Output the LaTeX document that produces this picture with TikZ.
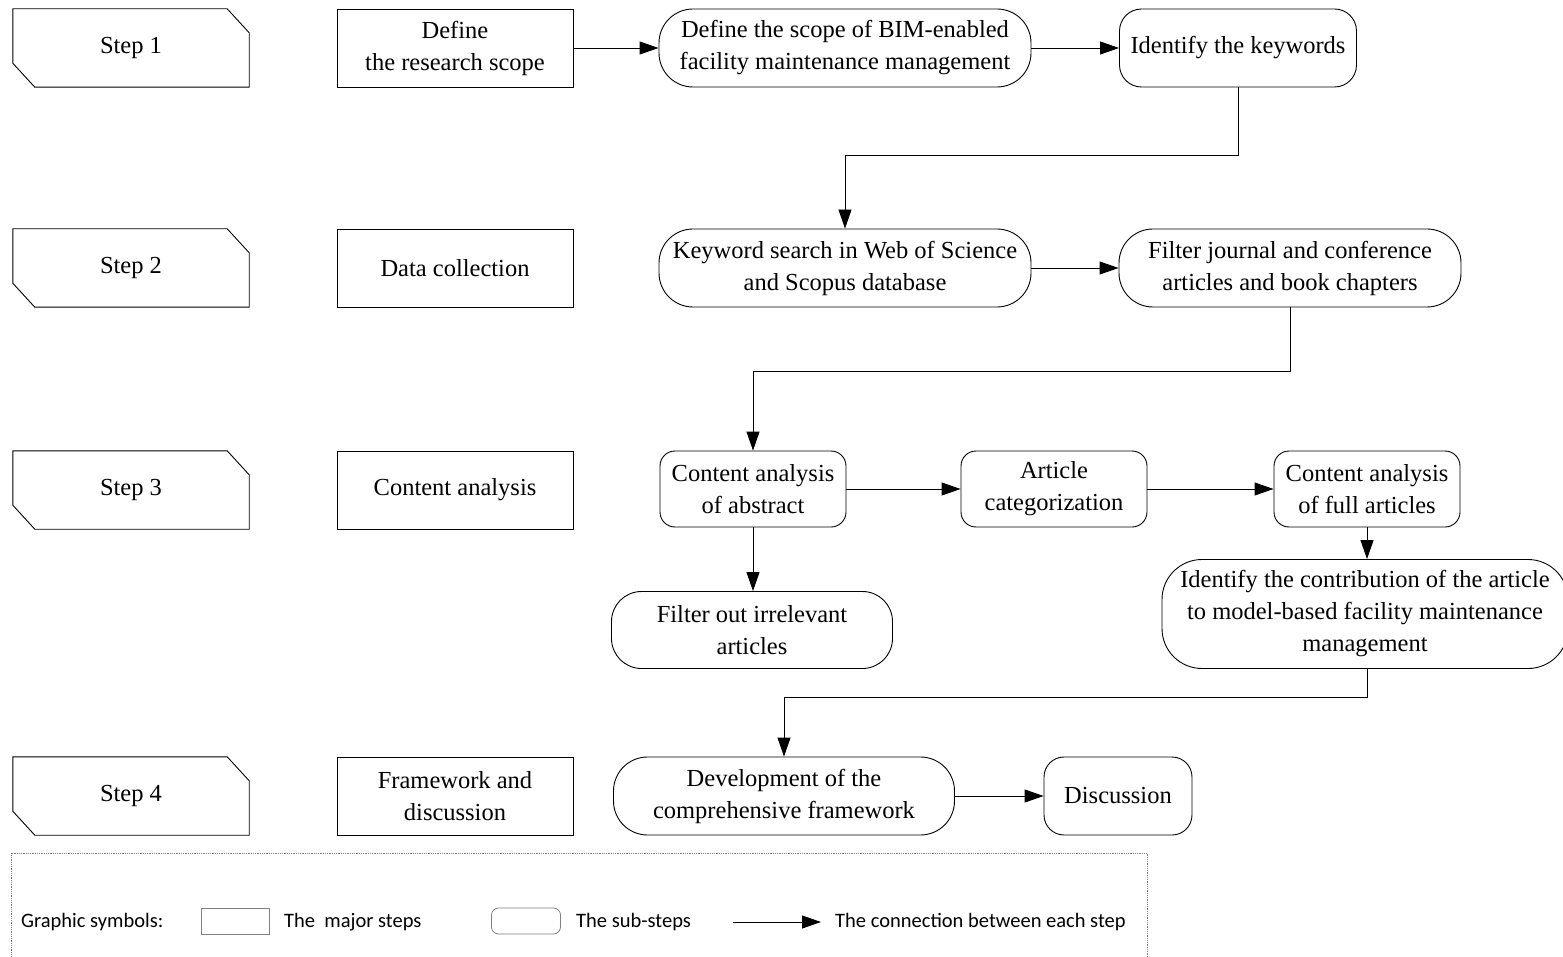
\documentclass[tikz,border=0pt]{standalone}
\usepackage{fontspec}
\setmainfont{Liberation Serif}
\newfontfamily\legendfont{Carlito}
\usetikzlibrary{arrows.meta}
\begin{document}
\begin{tikzpicture}[x=1pt,y=-1pt,
  base/.style={font=\fontsize{24.5}{32}\selectfont, align=center, inner sep=0pt, line width=0.9pt, draw=black},
  major/.style={base, minimum width=236, minimum height=78},
  stepnode/.style={font=\fontsize{24.5}{32}\selectfont, align=center, inner sep=0pt, minimum width=236, minimum height=78},
  sub/.style={base, rounded corners=#1},
  sub/.default=20pt,
  arr/.style={-{Triangle[length=19pt,width=13pt]}, line width=0.9pt, draw=black},
  legend/.style={font=\legendfont\fontsize{20.5}{24}\selectfont, inner sep=0pt, anchor=west},
  stepshape/.style={line width=0.9pt, draw=black}
]
\useasboundingbox (0,0) rectangle (1563,957);

% Step shapes
\foreach \n/\yy/\t in {s1/48/Step 1, s2/268/Step 2, s3/490/Step 3, s4/796/Step 4}{
  \node[stepnode] (\n) at (131,\yy) {\t};
  \draw[stepshape] (\n.north west) -- ([xshift=-22pt]\n.north east) -- ([yshift=-24pt]\n.north east)
    -- (\n.south east) -- ([xshift=22pt]\n.south west) -- ([yshift=24pt]\n.south west) -- cycle;
}

% Major steps
\node[major] (m1) at (455,48) {Define\\the research scope};
\node[major] (m2) at (455,268) {Data collection};
\node[major] (m3) at (455,490) {Content analysis};
\node[major] (m4) at (455,796) {Framework and\\discussion};

% Sub-steps
\node[sub=34pt, minimum width=372, minimum height=78] (a1) at (845,48) {Define the scope of BIM-enabled\\facility maintenance management};
\node[sub=22pt, minimum width=237, minimum height=78] (a2) at (1238,48) {Identify the keywords};
\node[sub=34pt, minimum width=372, minimum height=78] (b1) at (845,268) {Keyword search in Web of Science\\and Scopus database};
\node[sub=34pt, minimum width=342, minimum height=78] (b2) at (1290,268) {Filter journal and conference\\articles and book chapters};
\node[sub=15pt, minimum width=186, minimum height=76] (c1) at (753,489) {Content analysis\\of abstract};
\node[sub=15pt, minimum width=186, minimum height=76] (c2) at (1054,489) {Article\\categorization};
\node[sub=15pt, minimum width=186, minimum height=76] (c3) at (1367,489) {Content analysis\\of full articles};
\node[sub=40pt, minimum width=406, minimum height=109] (c4) at (1365,614) {Identify the contribution of the article\\to model-based facility maintenance\\management};
\node[sub=30pt, minimum width=281, minimum height=77] (c5) at (752,630) {Filter out irrelevant\\articles};
\node[sub=34pt, minimum width=341, minimum height=78] (d1) at (784,796) {Development of the\\comprehensive framework};
\node[sub=20pt, minimum width=148, minimum height=78] (d2) at (1118,796) {Discussion};

% Connectors
\draw[arr] (m1.east) -- (a1.west);
\draw[arr] (a1.east) -- (a2.west);
\draw[arr] (a2.south) -- ++(0,68) -| (b1.north);
\draw[arr] (b1.east) -- (b2.west);
\draw[arr] (b2.south) -- ++(0,64) -| (c1.north);
\draw[arr] (c1.east) -- (c2.west);
\draw[arr] (c2.east) -- (c3.west);
\draw[arr] (c3.south) -- (c3.south |- c4.north);
\draw[arr] (c1.south) -- (c1.south |- c5.north);
\draw[arr] (c4.south -| c3.south) -- ++(0,28) -| (d1.north);
\draw[arr] (d1.east) -- (d2.west);

% Legend
\draw[gray, densely dotted, line width=0.8pt] (11,962) -- (11,853) -- (1147,853) -- (1147,962);
\node[legend] (lg0) at (21,922) {Graphic symbols:};
\node[draw=gray, line width=0.8pt, inner sep=0pt, minimum width=68, minimum height=26] (lg1) at (235,921) {};
\node[legend] (lg2) at (284,922) {The\ \ major steps};
\node[draw=gray, line width=0.8pt, rounded corners=7pt, inner sep=0pt, minimum width=69, minimum height=26] (lg3) at (526,921) {};
\node[legend] (lg4) at (576,922) {The sub-steps};
\coordinate (la) at (733,922);
\coordinate (lb) at (821,922);
\draw[arr] (la) -- (lb);
\node[legend] (lg5) at (835,922) {The connection between each step};
\end{tikzpicture}
\end{document}
